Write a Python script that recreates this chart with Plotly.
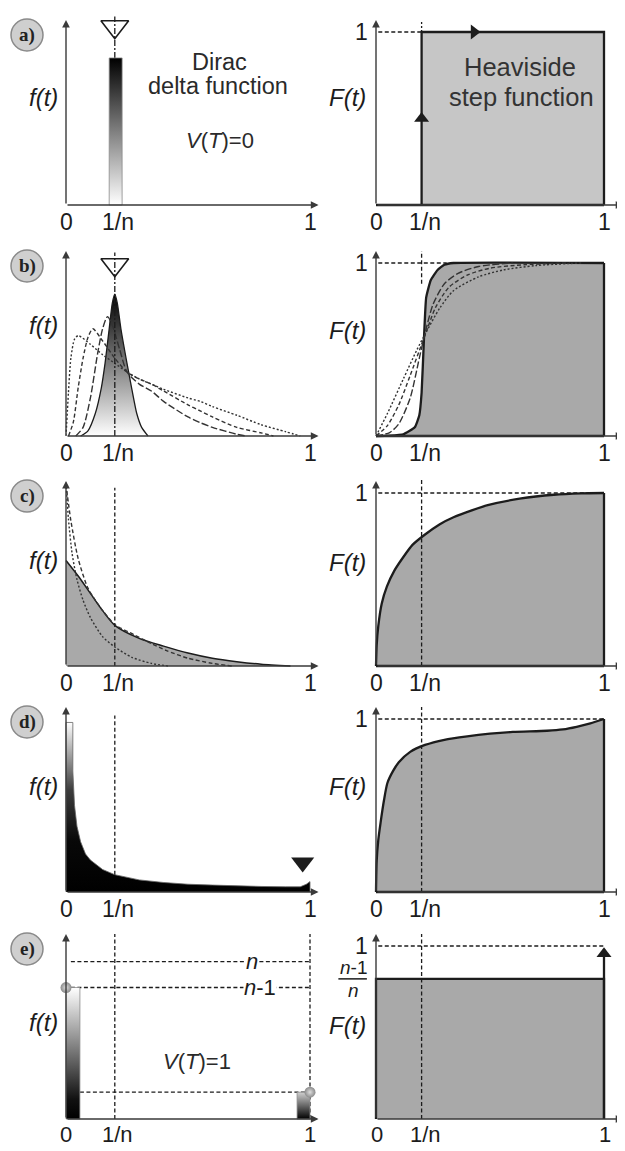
import plotly.graph_objects as go

# ---------------- data ----------------
N_INV = 0.2                      # position of 1/n on the t axis
TICK_VALS = [0, N_INV, 1]
TICK_TEXT = ["0", "1/n", "1"]
ROW_LABELS = ["a)", "b)", "c)", "d)", "e)"]

# a) Dirac delta / Heaviside step
A_DELTA_X = [0.177, 0.23]
A_DELTA_H = 0.85
A_STEP_X = [N_INV, 1.0]
A_STEP_Y = 1.0

# b) peaked densities and their CDFs
B_PDF_SOLID_X = [0.06, 0.09, 0.12, 0.145, 0.16, 0.177, 0.19, 0.2, 0.21, 0.225, 0.25, 0.27, 0.29, 0.31, 0.336]
B_PDF_SOLID_Y = [0, 0.03, 0.13, 0.28, 0.42, 0.62, 0.77, 0.82, 0.77, 0.62, 0.42, 0.27, 0.13, 0.05, 0]
B_PDF_LDASH_X = [0.04, 0.07, 0.1, 0.13, 0.15, 0.17, 0.19, 0.22, 0.25, 0.3, 0.35, 0.4, 0.5, 0.55, 0.6, 0.7, 0.74]
B_PDF_LDASH_Y = [0, 0.05, 0.22, 0.48, 0.62, 0.69, 0.64, 0.5, 0.37, 0.3, 0.26, 0.2, 0.11, 0.077, 0.05, 0.01, 0]
B_PDF_DASH_X = [0.01, 0.03, 0.05, 0.07, 0.09, 0.11, 0.15, 0.2, 0.25, 0.3, 0.35, 0.4, 0.5, 0.55, 0.6, 0.7, 0.8, 0.85]
B_PDF_DASH_Y = [0, 0.08, 0.28, 0.45, 0.57, 0.62, 0.55, 0.45, 0.37, 0.33, 0.3, 0.26, 0.18, 0.145, 0.11, 0.05, 0.018, 0]
B_PDF_DOT_X = [0, 0.01, 0.02, 0.035, 0.05, 0.1, 0.15, 0.2, 0.25, 0.3, 0.35, 0.4, 0.5, 0.55, 0.6, 0.7, 0.8, 0.9, 0.96]
B_PDF_DOT_Y = [0, 0.25, 0.45, 0.56, 0.58, 0.53, 0.47, 0.42, 0.37, 0.33, 0.3, 0.27, 0.22, 0.2, 0.17, 0.12, 0.065, 0.025, 0]

B_CDF_SOLID_X = [0, 0.06, 0.12, 0.17, 0.19, 0.2, 0.21, 0.22, 0.24, 0.27, 0.3, 0.34, 1.0]
B_CDF_SOLID_Y = [0, 0.002, 0.01, 0.05, 0.12, 0.25, 0.55, 0.8, 0.9, 0.96, 0.99, 1.0, 1.0]
B_CDF_LDASH_X = [0, 0.06, 0.1, 0.15, 0.19, 0.22, 0.25, 0.3, 0.36, 0.45, 0.6]
B_CDF_LDASH_Y = [0, 0.02, 0.07, 0.22, 0.45, 0.62, 0.76, 0.88, 0.94, 0.98, 1.0]
B_CDF_DASH_X = [0, 0.05, 0.1, 0.15, 0.2, 0.22, 0.26, 0.32, 0.4, 0.5, 0.65, 0.85]
B_CDF_DASH_Y = [0, 0.06, 0.18, 0.35, 0.53, 0.6, 0.74, 0.86, 0.93, 0.97, 0.99, 1.0]
B_CDF_DOT_X = [0, 0.05, 0.12, 0.18, 0.22, 0.28, 0.34, 0.45, 0.56, 0.7, 0.9]
B_CDF_DOT_Y = [0, 0.13, 0.33, 0.5, 0.6, 0.74, 0.84, 0.92, 0.96, 0.985, 1.0]

# c) decreasing densities and CDF
C_PDF_SOLID_X = [0, 0.05, 0.1, 0.15, 0.2, 0.3, 0.4, 0.5, 0.6, 0.7, 0.8, 0.92]
C_PDF_SOLID_Y = [0.61, 0.52, 0.42, 0.32, 0.235, 0.16, 0.115, 0.075, 0.045, 0.025, 0.01, 0]
C_PDF_DASH_X = [0, 0.02, 0.05, 0.09, 0.14, 0.2, 0.28, 0.35, 0.41, 0.5, 0.6, 0.68]
C_PDF_DASH_Y = [1.05, 0.84, 0.62, 0.45, 0.34, 0.24, 0.18, 0.13, 0.09, 0.045, 0.015, 0]
C_PDF_DOT_X = [0, 0.01, 0.025, 0.045, 0.07, 0.1, 0.15, 0.2, 0.27, 0.35, 0.42]
C_PDF_DOT_Y = [1.06, 0.85, 0.65, 0.5, 0.38, 0.28, 0.17, 0.11, 0.05, 0.015, 0]
C_CDF_X = [0, 0.003, 0.01, 0.025, 0.048, 0.08, 0.12, 0.16, 0.215, 0.28, 0.34, 0.42, 0.49, 0.63, 0.78, 0.9, 1.0]
C_CDF_Y = [0, 0.12, 0.23, 0.36, 0.46, 0.55, 0.63, 0.7, 0.76, 0.82, 0.86, 0.9, 0.93, 0.967, 0.99, 0.998, 1.0]

# d) U-shaped density and CDF
D_PDF_X = [0, 0, 0.028, 0.028, 0.035, 0.045, 0.06, 0.08, 0.1, 0.15, 0.2, 0.3, 0.4, 0.5, 0.6, 0.7, 0.8, 0.9, 0.96, 0.985, 1.0, 1.0]
D_PDF_Y = [0, 0.98, 0.98, 0.7, 0.5, 0.38, 0.29, 0.22, 0.185, 0.13, 0.1, 0.07, 0.055, 0.045, 0.04, 0.035, 0.032, 0.03, 0.03, 0.045, 0.06, 0]
D_MARK_X, D_MARK_Y = 0.97, 0.17
D_CDF_X = [0, 0.003, 0.01, 0.02, 0.035, 0.05, 0.075, 0.1, 0.15, 0.215, 0.3, 0.4, 0.5, 0.6, 0.75, 0.82, 0.88, 0.94, 1.0]
D_CDF_Y = [0, 0.18, 0.3, 0.4, 0.53, 0.63, 0.7, 0.75, 0.81, 0.85, 0.88, 0.9, 0.915, 0.925, 0.932, 0.94, 0.955, 0.975, 1.0]

# e) two-point distribution
E_LEVEL_N = 0.91
E_LEVEL_N1 = 0.76
E_LEVEL_LOW = 0.155
E_BAR0_X = [0, 0.057]
E_BAR1_X = [0.947, 1.0]
E_CDF_LEVEL = 0.81

# ---------------- layout constants (screen pixels) ----------------
SCREEN_W, SCREEN_H = 625, 1151
OFF = 8                          # default page margin around the plot div
FW, FH = SCREEN_W - OFF, SCREEN_H - OFF
X0L, SXL = 66, 244               # left panels: px of t=0, px per unit
X0R, SXR = 376, 228              # right panels
SY = 173
BASE_PX = [205, 436, 666, 892, 1119]
INK = "#1c1c1c"
AX = "#3a3a3a"
GRAY = "#a9a9a9"
GRAY_A = "#c6c6c6"
FONT = "Liberation Sans, Arial, sans-serif"

fig = go.Figure()
annotations = []
shapes = []


def pxx(px):
    return (px - OFF) / FW


def pxy(py):
    return (FH - (py - OFF)) / FH


def ids(r, c):
    k = r * 2 + c + 1
    s = "" if k == 1 else str(k)
    return "x" + s, "y" + s, "xaxis" + s, "yaxis" + s


def to_paper(r, c, x, y):
    px = (X0L + x * SXL) if c == 0 else (X0R + x * SXR)
    py = BASE_PX[r] - y * SY
    return pxx(px), pxy(py)


TOP_PAD = 190
axes = {}
for r in range(5):
    b = BASE_PX[r]
    ydom = [pxy(b + 8), pxy(b - TOP_PAD)]
    yrng = [-8 / SY, TOP_PAD / SY]
    for c in range(2):
        xa, ya, xk, yk = ids(r, c)
        if c == 0:
            xdom = [pxx(X0L - 8), pxx(X0L + 258)]
            xrng = [-8 / SXL, 258 / SXL]
        else:
            xdom = [pxx(X0R - 8), 1.0]
            xrng = [-8 / SXR, (SCREEN_W - X0R) / SXR]
        axes[xk] = dict(domain=xdom, range=xrng, visible=False, fixedrange=True, anchor=ya)
        axes[yk] = dict(domain=ydom, range=yrng, visible=False, fixedrange=True, anchor=xa)


def add_line(r, c, x, y, color=INK, width=1.5, dash=None, spline=False, smoothing=0.7, fill=None,
             fillcolor=None, fillgradient=None):
    xa, ya, _, _ = ids(r, c)
    ln = dict(color=color, width=width)
    if dash:
        ln["dash"] = dash
    if spline:
        ln["shape"] = "spline"
        ln["smoothing"] = smoothing
    kw = {}
    if fill:
        kw["fill"] = fill
        if fillcolor:
            kw["fillcolor"] = fillcolor
        if fillgradient:
            kw["fillgradient"] = fillgradient
    fig.add_trace(go.Scatter(x=x, y=y, xaxis=xa, yaxis=ya, mode="lines", line=ln,
                             hoverinfo="skip", showlegend=False, **kw))


def add_marker(r, c, x, y, symbol, size, color=INK, linecolor=None, linewidth=0, gradient=None):
    xa, ya, _, _ = ids(r, c)
    m = dict(symbol=symbol, size=size, color=color,
             line=dict(color=linecolor or color, width=linewidth))
    if gradient:
        m["gradient"] = gradient
    fig.add_trace(go.Scatter(x=[x], y=[y], xaxis=xa, yaxis=ya, mode="markers", marker=m,
                             hoverinfo="skip", showlegend=False, cliponaxis=False))


def add_text(r, c, x, y, text, size=23, color=INK, **kw):
    px, py = to_paper(r, c, x, y)
    d = dict(x=px, y=py, xref="paper", yref="paper", text=text, showarrow=False,
             font=dict(family=FONT, size=size, color=color), xanchor="center", yanchor="middle")
    d.update(kw)
    annotations.append(d)


def add_arrow(r, c, x0, y0, x1, y1, color=AX, width=1.4):
    xa, ya, _, _ = ids(r, c)
    annotations.append(dict(x=x1, y=y1, ax=x0, ay=y0, xref=xa, yref=ya, axref=xa, ayref=ya,
                            text="", showarrow=True, arrowhead=2, arrowsize=1.1,
                            arrowwidth=width, arrowcolor=color, standoff=0, startstandoff=0))


DASH = "4px,2.5px"
DOT = "2px,2px"
LDASH = "7px,2.5px"
DASHDOT = "6px,2px,2px,2px"

# ---------------- common axes and labels ----------------
F_LABEL_Y = [0.62, 0.64, 0.61, 0.61, 0.56]
CDF_LABEL_Y = [0.62, 0.61, 0.6, 0.61, 0.54]
for r in range(5):
    tick_y = -0.1 if r < 4 else -0.088
    tick_size = 23 if r < 4 else 22
    for c in range(2):
        xmax = 1.035 if c == 0 else 1.085
        add_arrow(r, c, 0, 0, 0, 1.07)
        add_arrow(r, c, 0, 0, xmax, 0)
        offs = [0.0, 0.013, 0.0] if c == 0 else [0.004, 0.015, 0.004]
        for v, t, o in zip(TICK_VALS, TICK_TEXT, offs):
            add_text(r, c, v + o, tick_y, t, size=tick_size)
    add_text(r, 0, -0.094, F_LABEL_Y[r], "<i>f(t)</i>", size=24)
    add_text(r, 1, -0.123, CDF_LABEL_Y[r], "<i>F(t)</i>", size=24)
    if r < 4:
        add_text(r, 1, -0.062, 1.0, "1", size=23)
    # row label badge
    cy = BASE_PX[r] - 170
    shapes.append(dict(type="circle", xref="paper", yref="paper",
                       x0=pxx(11), x1=pxx(43), y0=pxy(cy + 16), y1=pxy(cy - 16),
                       fillcolor="#cfcfcf", line=dict(color="#8a8a8a", width=1.5)))
    annotations.append(dict(x=pxx(27), y=pxy(cy), xref="paper", yref="paper", text="<b>" + ROW_LABELS[r] + "</b>",
                            showarrow=False, font=dict(family="Liberation Serif, serif", size=19, color="#222"),
                            xanchor="center", yanchor="middle"))

# ---------------- a) ----------------
x0, x1 = A_DELTA_X
add_line(0, 0, [N_INV, N_INV], [A_DELTA_H, 1.09], color=INK, width=1.3, dash=DASHDOT)
add_line(0, 0, [x0, x0, x1, x1, x0], [0, A_DELTA_H, A_DELTA_H, 0, 0], color="#8a8a8a", width=0.8,
         fill="toself", fillgradient=dict(type="vertical", colorscale=[[0, "#ffffff"], [1, "#000000"]]))
add_marker(0, 0, N_INV, 1.03, "triangle-down-open", 24, color=INK, linewidth=1.6)
add_text(0, 0, 0.63, 0.827, "Dirac", size=23.5, color="#2a2a2a")
add_text(0, 0, 0.623, 0.69, "delta function", size=23.5, color="#2a2a2a")
add_text(0, 0, 0.63, 0.375, "<i>V</i>(<i>T</i>)=0", size=22, color="#2a2a2a")

sx0, sx1 = A_STEP_X
add_line(0, 1, [sx0, sx0, sx1, sx1], [0, A_STEP_Y, A_STEP_Y, 0], color=INK, width=2.3,
         fill="toself", fillcolor=GRAY_A)
add_line(0, 1, [0, 1], [0, 0], color=INK, width=2.3)
add_line(0, 1, [0.01, sx0], [A_STEP_Y, A_STEP_Y], color=INK, width=1.3, dash=DASH)
add_line(0, 1, [sx0, sx0], [A_STEP_Y, 1.07], color=INK, width=1.3, dash=DOT)
add_marker(0, 1, sx0, 0.5, "triangle-up", 13)
add_marker(0, 1, 0.43, A_STEP_Y, "triangle-right", 13)
add_text(0, 1, 0.633, 0.798, "Heaviside", size=25.5, color="#333333")
add_text(0, 1, 0.64, 0.624, "step function", size=25.5, color="#333333")

# ---------------- b) ----------------
add_line(1, 0, B_PDF_SOLID_X, B_PDF_SOLID_Y, color=INK, width=1.3, spline=True, smoothing=0.6, fill="toself",
         fillgradient=dict(type="vertical", colorscale=[[0, "#ffffff"], [1, "#000000"]]))
add_line(1, 0, B_PDF_DOT_X, B_PDF_DOT_Y, color="#333", width=1.4, dash=DOT, spline=True)
add_line(1, 0, B_PDF_DASH_X, B_PDF_DASH_Y, color="#333", width=1.4, dash=DASH, spline=True)
add_line(1, 0, B_PDF_LDASH_X, B_PDF_LDASH_Y, color="#333", width=1.4, dash=LDASH, spline=True)
add_line(1, 0, [N_INV, N_INV], [0, 1.06], color=INK, width=1.3, dash=DASHDOT)
add_marker(1, 0, N_INV, 0.99, "triangle-down-open", 24, color=INK, linewidth=1.6)

add_line(1, 1, B_CDF_SOLID_X, B_CDF_SOLID_Y, color=INK, width=2.3, spline=True, smoothing=0.4,
         fill="tozeroy", fillcolor=GRAY)
add_line(1, 1, [1, 1], [1, 0], color=INK, width=2.3)
add_line(1, 1, [0, 1], [0, 0], color=INK, width=2.3)
add_line(1, 1, B_CDF_DOT_X, B_CDF_DOT_Y, color="#333", width=1.4, dash=DOT, spline=True)
add_line(1, 1, B_CDF_DASH_X, B_CDF_DASH_Y, color="#333", width=1.4, dash=DASH, spline=True)
add_line(1, 1, B_CDF_LDASH_X, B_CDF_LDASH_Y, color="#333", width=1.4, dash=LDASH, spline=True)
add_line(1, 1, [0.01, 0.31], [1, 1], color=INK, width=1.3, dash=DASH)
add_line(1, 1, [N_INV, N_INV], [0.88, 1.07], color=INK, width=1.3, dash=DASH)

# ---------------- c) ----------------
add_line(2, 0, C_PDF_SOLID_X, C_PDF_SOLID_Y, color=INK, width=1.5, spline=True, fill="tozeroy", fillcolor=GRAY)
add_line(2, 0, C_PDF_DOT_X, C_PDF_DOT_Y, color="#333", width=1.4, dash=DOT, spline=True)
add_line(2, 0, C_PDF_DASH_X, C_PDF_DASH_Y, color="#333", width=1.4, dash=DASH, spline=True)
add_line(2, 0, [N_INV, N_INV], [0, 1.03], color=INK, width=1.3, dash=DASH)

add_line(2, 1, C_CDF_X, C_CDF_Y, color=INK, width=2.3, spline=True, smoothing=0.5, fill="tozeroy", fillcolor=GRAY)
add_line(2, 1, [1, 1], [1, 0], color=INK, width=2.3)
add_line(2, 1, [0, 1], [0, 0], color=INK, width=2.3)
add_line(2, 1, [0.01, 1.0], [1, 1], color=INK, width=1.3, dash=DASH)
add_line(2, 1, [N_INV, N_INV], [0, 1.08], color=INK, width=1.3, dash=DASH)

# ---------------- d) ----------------
add_line(3, 0, D_PDF_X, D_PDF_Y, color="#666", width=0.8, fill="toself",
         fillgradient=dict(type="vertical", start=0, stop=0.98,
                           colorscale=[[0, "#000000"], [0.3, "#080808"], [0.6, "#3c3c3c"], [1, "#ffffff"]]))
add_line(3, 0, [N_INV, N_INV], [0.1, 1.02], color=INK, width=1.3, dash=DASH)
add_marker(3, 0, D_MARK_X, D_MARK_Y, "triangle-down", 20)

add_line(3, 1, D_CDF_X, D_CDF_Y, color=INK, width=2.3, spline=True, smoothing=0.7, fill="tozeroy", fillcolor=GRAY)
add_line(3, 1, [1, 1], [1, 0], color=INK, width=2.3)
add_line(3, 1, [0, 1], [0, 0], color=INK, width=2.3)
add_line(3, 1, [0.01, 1.0], [1, 1], color=INK, width=1.3, dash=DASH)
add_line(3, 1, [N_INV, N_INV], [0, 1.07], color=INK, width=1.3, dash=DASH)

# ---------------- e) ----------------
add_line(4, 0, [0.02, 1.0], [E_LEVEL_N, E_LEVEL_N], color=INK, width=1.3, dash=DASH)
add_line(4, 0, [0.02, 1.0], [E_LEVEL_N1, E_LEVEL_N1], color=INK, width=1.3, dash=DASH)
add_line(4, 0, [E_BAR0_X[1], 1.0], [E_LEVEL_LOW, E_LEVEL_LOW], color=INK, width=1.3, dash=DASH)
add_line(4, 0, [N_INV, N_INV], [0, 1.07], color=INK, width=1.3, dash=DASH)
add_line(4, 0, [1.0, 1.0], [0, 1.07], color=INK, width=1.3, dash=DASH)
b0, b1 = E_BAR0_X
add_line(4, 0, [b0, b0, b1, b1, b0], [0, E_LEVEL_N1, E_LEVEL_N1, 0, 0], color="#8a8a8a", width=0.8,
         fill="toself", fillgradient=dict(type="vertical", colorscale=[[0, "#000000"], [0.15, "#111111"], [1, "#ffffff"]]))
c0, c1 = E_BAR1_X
add_line(4, 0, [c0, c0, c1, c1, c0], [0, E_LEVEL_LOW, E_LEVEL_LOW, 0, 0], color="#8a8a8a", width=0.8,
         fill="toself", fillgradient=dict(type="vertical", colorscale=[[0, "#000000"], [1, "#d0d0d0"]]))
add_marker(4, 0, 0, E_LEVEL_N1, "circle", 11, color="#8a8a8a", gradient=dict(type="radial", color="#dedede"))
add_marker(4, 0, 1, E_LEVEL_LOW, "circle", 11, color="#8a8a8a", gradient=dict(type="radial", color="#dedede"))
add_text(4, 0, 0.762, E_LEVEL_N, "<i>n</i>", size=22, bgcolor="white", borderpad=0)
add_text(4, 0, 0.795, E_LEVEL_N1, "<i>n</i>-1", size=22, bgcolor="white", borderpad=0)
add_text(4, 0, 0.537, 0.33, "<i>V</i>(<i>T</i>)=1", size=22, color="#2a2a2a")

add_line(4, 1, [0, 0, 1, 1], [0, E_CDF_LEVEL, E_CDF_LEVEL, 0], color=INK, width=2.3, fill="toself", fillcolor=GRAY)
add_line(4, 1, [1, 1], [0, 0.95], color=INK, width=2.3)
add_marker(4, 1, 1, 0.955, "triangle-up", 13)
add_line(4, 1, [0.01, 1.0], [1, 1], color=INK, width=1.3, dash=DASH)
add_line(4, 1, [N_INV, N_INV], [0, 1.07], color=INK, width=1.3, dash=DASH)
add_text(4, 1, -0.062, 1.0, "1", size=23)
add_text(4, 1, -0.1, E_CDF_LEVEL + 0.065, "<i>n</i>-1", size=19)
add_text(4, 1, -0.1, E_CDF_LEVEL - 0.065, "<i>n</i>", size=19)
fx0, fy = to_paper(4, 1, -0.165, E_CDF_LEVEL)
fx1, _ = to_paper(4, 1, -0.04, E_CDF_LEVEL)
shapes.append(dict(type="line", xref="paper", yref="paper", x0=fx0, x1=fx1, y0=fy, y1=fy,
                   line=dict(color=INK, width=1.5)))

fig.update_layout(width=FW, height=FH, margin=dict(l=0, r=0, t=0, b=0),
                  paper_bgcolor="white", plot_bgcolor="white",
                  annotations=annotations, shapes=shapes, **axes)
fig.write_html("out.html")
